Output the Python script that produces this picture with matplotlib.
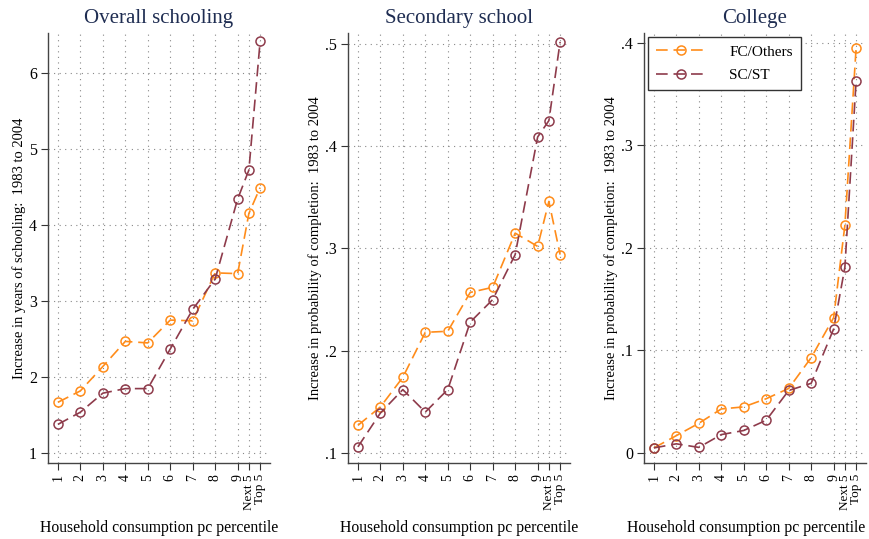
import numpy as np
import matplotlib
matplotlib.use("Agg")
import matplotlib.pyplot as plt
import matplotlib.transforms as mtransforms

plt.rcParams["font.family"] = ["Liberation Serif", "DejaVu Serif"]

# x positions: deciles 1-9, then next 5 and top 5 percent
XPOS = [1, 2, 3, 4, 5, 6, 7, 8, 9, 9.5, 10]
XLABELS = ["1", "2", "3", "4", "5", "6", "7", "8", "9", "Next 5", "Top 5"]

# overall schooling: increase in years, 1983 to 2004
years_fc = [1.67, 1.82, 2.14, 2.47, 2.45, 2.75, 2.74, 3.37, 3.36, 4.15, 4.49]
years_sc = [1.38, 1.54, 1.79, 1.85, 1.85, 2.37, 2.89, 3.29, 4.34, 4.72, 6.41]

# secondary school completion probability
sec_fc = [.127, .145, .174, .218, .219, .257, .262, .315, .302, .346, .294]
sec_sc = [.106, .139, .162, .140, .162, .228, .250, .294, .409, .425, .502]

# college completion probability
col_fc = [.005, .017, .029, .043, .045, .053, .063, .093, .132, .222, .395]
col_sc = [.005, .009, .0055, .018, .022, .032, .061, .068, .121, .181, .363]

ORANGE = "#ff8c1a"
MAROON = "#8e3b4b"
NAVY = "#1f2d52"

panels = [
    dict(title="Overall schooling", fc=years_fc, sc=years_sc,
         ylabel="Increase in years of schooling:  1983 to 2004",
         yticks=[1, 2, 3, 4, 5, 6], ylabs=["1", "2", "3", "4", "5", "6"],
         ylim=(0.873, 6.52), left=48),
    dict(title="Secondary school", fc=sec_fc, sc=sec_sc,
         ylabel="Increase in probability of completion:  1983 to 2004",
         yticks=[.1, .2, .3, .4, .5], ylabs=[".1", ".2", ".3", ".4", ".5"],
         ylim=(0.0902, 0.5107), left=348),
    dict(title="College", fc=col_fc, sc=col_sc,
         ylabel="Increase in probability of completion:  1983 to 2004",
         yticks=[0, .1, .2, .3, .4], ylabs=["0", ".1", ".2", ".3", ".4"],
         ylim=(-0.0097, 0.4095), left=644),
]

W, H = 869, 539
fig = plt.figure(figsize=(W / 100, H / 100), dpi=100)

dash = (0, (7, 3.5))
for i, p in enumerate(panels):
    ax = fig.add_axes([p["left"] / W, 1 - 463 / H, 222 / W, 430 / H])
    ax.plot(XPOS, p["fc"], color=ORANGE, ls=dash, lw=1.2, marker="o",
            ms=6.5, mfc="none", mew=1.1, label="FC/Others", zorder=3)
    ax.plot(XPOS, p["sc"], color=MAROON, ls=dash, lw=1.2, marker="o",
            ms=6.5, mfc="none", mew=1.1, label="SC/ST", zorder=3)

    ax.set_xlim(0.56, 10.44)
    ax.set_ylim(*p["ylim"])
    ax.set_xticks(XPOS)
    ax.set_xticklabels(XLABELS, rotation=90, fontsize=10)
    # the two top-percentile labels sit only half a step apart
    labs = ax.get_xticklabels()
    for lab, dx in ((labs[-2], -3), (labs[-1], 3)):
        lab.set_fontsize(9.5)
        lab.set_transform(lab.get_transform() +
                          mtransforms.ScaledTranslation(dx / 100, 0, fig.dpi_scale_trans))
    ax.set_yticks(p["yticks"])
    ax.set_yticklabels(p["ylabs"], fontsize=11.5)
    ax.tick_params(length=5, width=0.8, color="#333333", pad=3)

    ax.grid(True, ls=(0, (1, 4)), color="#888888", lw=0.8)
    ax.set_axisbelow(True)
    for s in ("top", "right"):
        ax.spines[s].set_visible(False)
    for s in ("left", "bottom"):
        ax.spines[s].set_color("#444444")
        ax.spines[s].set_linewidth(1.0)

    ax.set_title(p["title"], fontsize=15, color=NAVY, pad=7)
    ax.set_ylabel(p["ylabel"], fontsize=10.5, labelpad=2)
    ax.set_xlabel("Household consumption pc percentile", fontsize=11.3)
    ax.xaxis.set_label_coords(0.5 if i < 2 else 0.46, -0.133)

    if i == 2:
        leg = ax.legend(loc="upper left", bbox_to_anchor=(0.02, 0.99),
                        fontsize=11, frameon=True, fancybox=False,
                        handlelength=3.2, borderpad=0.5, labelspacing=0.65,
                        handletextpad=1.6, borderaxespad=0.0)
        leg.get_frame().set_edgecolor("#333333")
        leg.get_frame().set_linewidth(1.0)
        leg.get_frame().set_alpha(1.0)

fig.savefig("out.png", dpi=100, facecolor="white")
